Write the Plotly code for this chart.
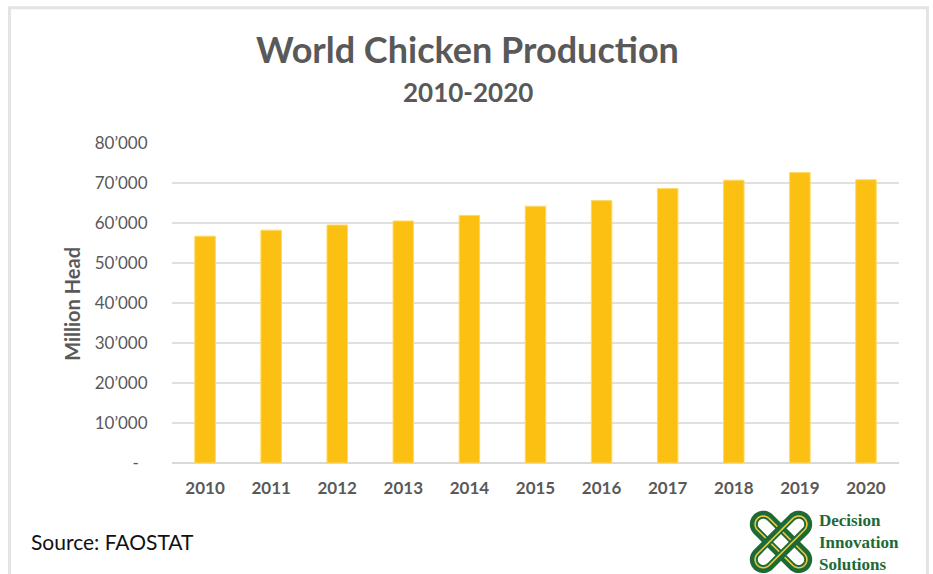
import numpy as np
import plotly.graph_objects as go

# ---- data ----
years = ["2010", "2011", "2012", "2013", "2014", "2015", "2016", "2017", "2018", "2019", "2020"]
production = [56700, 58200, 59500, 60500, 61900, 64200, 65600, 68600, 70700, 72600, 70800]
ytick_vals = [0, 10000, 20000, 30000, 40000, 50000, 60000, 70000, 80000]
ytick_text = ["-\u00a0\u00a0", "10’000", "20’000", "30’000", "40’000", "50’000", "60’000", "70’000", "80’000"]

# ---- geometry helpers (pixel -> paper) ----
W, H = 933, 574
L, R, T, B = 172, 899, 142.5, 463


def px(x):
    return (x - L) / (R - L)


def py(y):
    return (B - y) / (B - T)


GRAY = "#595959"
FONT = "Lato"

fig = go.Figure(
    go.Bar(
        x=years,
        y=production,
        width=0.31,
        marker=dict(color="#FCC013", line=dict(color="#FDD866", width=1)),
        hoverinfo="x+y",
    )
)

fig.update_layout(
    width=W,
    height=H,
    margin=dict(l=L, r=W - R, t=T, b=H - B, pad=0),
    paper_bgcolor="white",
    plot_bgcolor="white",
    showlegend=False,
    font=dict(family=FONT, color=GRAY),
)

fig.update_xaxes(
    type="category",
    tickfont=dict(family=FONT, size=17, color=GRAY, weight="bold"),
    ticks="outside",
    ticklen=10,
    tickcolor="rgba(0,0,0,0)",
    showgrid=False,
    showline=False,
)
fig.update_yaxes(
    range=[0, 80000],
    tickvals=ytick_vals,
    ticktext=ytick_text,
    tickfont=dict(family=FONT, size=17, color=GRAY),
    ticks="outside",
    ticklen=20,
    tickcolor="rgba(0,0,0,0)",
    showgrid=True,
    gridcolor="#e0e0e0",
    gridwidth=2,
    zeroline=True,
    zerolinecolor="#d9d9d9",
    zerolinewidth=2,
    showline=False,
)

annotations = [
    dict(text="World Chicken Production", x=px(467.5), y=py(48), xanchor="center", yanchor="middle",
         font=dict(family=FONT, size=36, color=GRAY, weight="bold")),
    dict(text="2010-2020", x=px(468), y=py(91), xanchor="center", yanchor="middle",
         font=dict(family=FONT, size=26, color=GRAY, weight="bold")),
    dict(text="Million Head", x=px(72.5), y=py(303), xanchor="center", yanchor="middle", textangle=-90,
         font=dict(family=FONT, size=20, color=GRAY, weight="bold")),
    dict(text="Source: FAOSTAT", x=px(29), y=py(542), xanchor="left", yanchor="middle",
         font=dict(family=FONT, size=21, color="#111111")),
]
logo_green = "#1d6a36"
for txt, yy in [("Decision", 521), ("Innovation", 543), ("Solutions", 565)]:
    annotations.append(dict(text=txt, x=px(817), y=py(yy), xanchor="left", yanchor="middle",
                            font=dict(family="Liberation Serif", size=17, color=logo_green, weight="bold")))
for a in annotations:
    a.update(xref="paper", yref="paper", showarrow=False)
fig.update_layout(annotations=annotations)


# ---- logo knot (decoration) ----
def stadium_path(cx, cy, ang, a, r, n=40):
    u = np.array([np.cos(ang), np.sin(ang)])
    v = np.array([-np.sin(ang), np.cos(ang)])
    pts = []
    for t in np.linspace(-np.pi / 2, np.pi / 2, n):
        p = np.array([cx, cy]) + a * u + r * (np.cos(t) * u + np.sin(t) * v)
        pts.append(p)
    for t in np.linspace(np.pi / 2, 3 * np.pi / 2, n):
        p = np.array([cx, cy]) - a * u + r * (np.cos(t) * u + np.sin(t) * v)
        pts.append(p)
    s = "M " + " L ".join(f"{px(p[0]):.5f},{py(p[1]):.5f}" for p in pts) + " Z"
    return s


shapes = [
    dict(type="rect", xref="paper", yref="paper", x0=px(9.5), x1=px(927.5), y0=py(7), y1=py(600),
         line=dict(color="#e4e4e4", width=3), fillcolor="rgba(0,0,0,0)", layer="below"),
]
cx, cy = 781, 542
for ang in [np.pi / 4, -np.pi / 4]:
    shapes.append(dict(type="path", xref="paper", yref="paper", path=stadium_path(cx, cy, ang, 25, 9.5),
                       line=dict(color=logo_green, width=8), fillcolor="rgba(0,0,0,0)"))
    shapes.append(dict(type="path", xref="paper", yref="paper", path=stadium_path(cx, cy, ang, 25, 8.2),
                       line=dict(color="#efc83c", width=1.6), fillcolor="rgba(0,0,0,0)"))
fig.update_layout(shapes=shapes)

fig.write_html(
    "out.html",
    config={"displayModeBar": False},
    post_script="document.body.style.margin='0px';document.body.style.overflow='hidden';",
)
